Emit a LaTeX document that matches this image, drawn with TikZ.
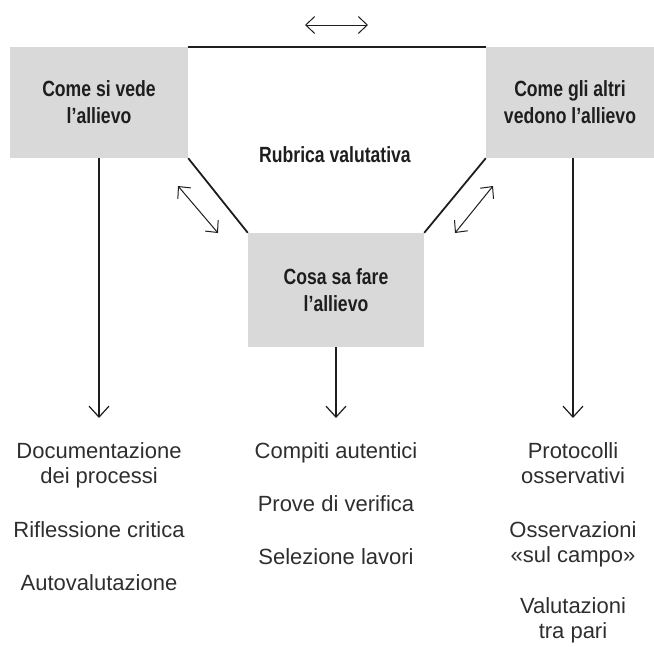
\documentclass[tikz,border=0pt]{standalone}
\usepackage{fontspec}
\setmainfont{Liberation Sans}
\newfontfamily\headfont[FakeStretch=0.8]{Liberation Sans}
\usetikzlibrary{arrows.meta}
\definecolor{boxgray}{HTML}{D9D9D9}
\definecolor{ink}{HTML}{1E1E1E}
\definecolor{softink}{HTML}{2E2E2E}
\tikzstyle{box}=[fill=boxgray, minimum height=111pt, inner sep=0pt, align=center, text=ink, font=\headfont\bfseries\fontsize{22}{27}\selectfont]
\tikzstyle{heading}=[inner sep=0pt, text=ink, font=\headfont\bfseries\fontsize{22}{27}\selectfont]
\tikzstyle{item}=[anchor=north, inner sep=0pt, align=center, text=softink, font=\fontsize{22}{25.5}\selectfont]
\tikzstyle{frame}=[draw=ink, line width=1.8pt]
\tikzstyle{down}=[draw=ink, line width=1.2pt, -{Straight Barb[length=11pt, width=20pt]}]
\tikzstyle{twoway}=[draw=ink, line width=1pt, {Straight Barb[length=9pt, width=17pt]}-{Straight Barb[length=9pt, width=17pt]}]

\begin{document}
\begin{tikzpicture}[x=1pt, y=-1pt]
        \useasboundingbox (0, 0) rectangle (654, 646);
        \node[box, minimum width=178pt]                         (B1) at (99, 102.5) {Come si vede\\l’allievo};
        \node[box, minimum width=168pt]                         (B2) at (570, 102.5) {Come gli altri\\vedono l’allievo};
        \node[box, minimum width=176pt, minimum height=114pt]   (B3) at (336, 290) {Cosa sa fare\\l’allievo};
        \node[heading]                                          (R)  at (335, 155) {Rubrica valutativa};
        \node[item] (L1) at (99, 442)  {Documentazione\\dei processi};
        \node[item] (L2) at (99, 521)  {Riflessione critica};
        \node[item] (L3) at (99, 574)  {Autovalutazione};
        \node[item] (C1) at (336, 442) {Compiti autentici};
        \node[item] (C2) at (336, 495) {Prove di verifica};
        \node[item] (C3) at (336, 548) {Selezione lavori};
        \node[item] (D1) at (573, 442) {Protocolli\\osservativi};
        \node[item] (D2) at (573, 521) {Osservazioni\\«sul campo»};
        \node[item] (D3) at (573, 597) {Valutazioni\\tra pari};
        \coordinate (T1) at (305, 25);
        \coordinate (T2) at (368, 25);
        \coordinate (S1) at (178, 186);
        \coordinate (S2) at (218, 233);
        \coordinate (S3) at (493, 186);
        \coordinate (S4) at (455, 233);
        \coordinate (A1) at (99, 418);
        \coordinate (A2) at (336, 418);
        \coordinate (A3) at (573, 418);
        \draw[frame] (B1.north east) -- (B2.north west);
        \draw[frame] (B1.south east) -- (B3.north west);
        \draw[frame] (B2.south west) -- (B3.north east);
        \draw[twoway] (T1) -- (T2);
        \draw[twoway] (S1) -- (S2);
        \draw[twoway] (S3) -- (S4);
        \draw[down] (B1.south) -- (A1);
        \draw[down] (B3.south) -- (A2);
        \draw[down] (B2.south -| A3) -- (A3);
    \end{tikzpicture}
\end{document}
